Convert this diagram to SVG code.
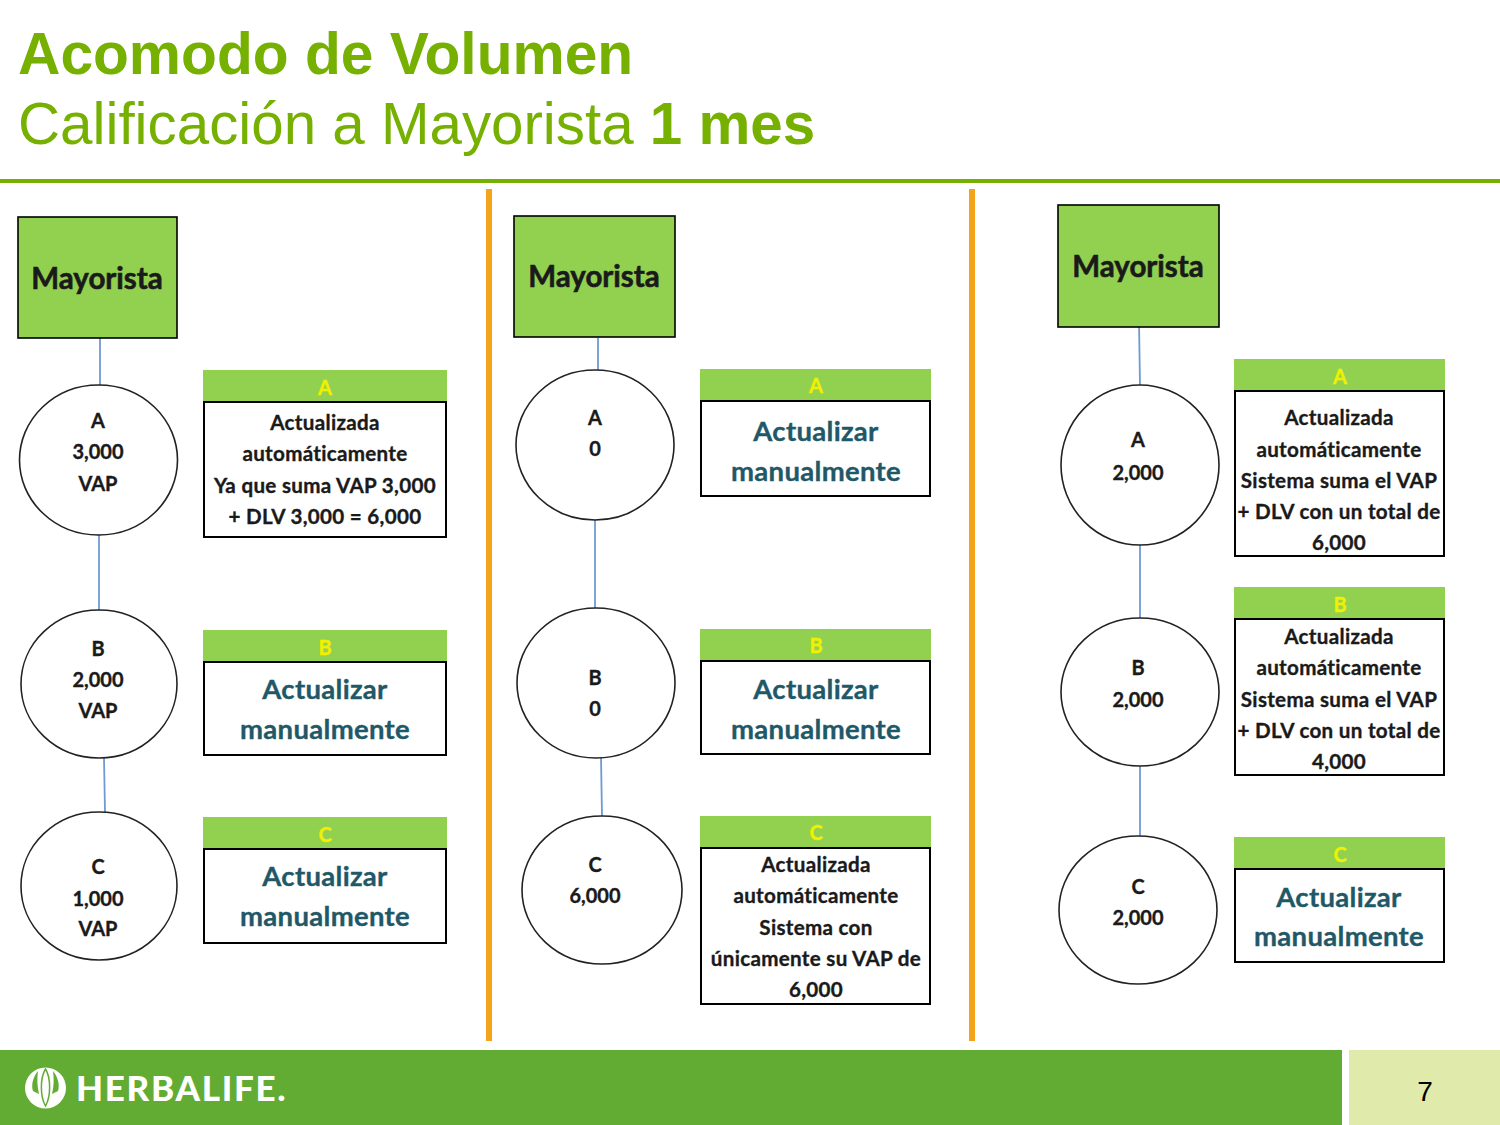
<svg xmlns="http://www.w3.org/2000/svg" width="1500" height="1125" viewBox="0 0 1500 1125">
<style>
.t{font-family:"Liberation Sans",Arial,sans-serif;fill:#76b000;font-size:58.300px}
.b{font-weight:700}
.n{fill:#92d050;stroke:#000;stroke-width:1.6}
.c{fill:#fff;stroke:#222;stroke-width:1.6}
.h{fill:#92d050}
.w{fill:#fff;stroke:#000;stroke-width:2}
.l{font-family:Lato,"Noto Sans",sans-serif;font-weight:700;text-anchor:middle;fill:#1a1a1a;stroke:#1a1a1a;stroke-width:.35}
.m{font-size:29.500px;stroke-width:.6}
.s{font-size:20px;transform:translateY(.7px)}
.x{font-size:20.600px;letter-spacing:.3px;transform:translateY(.7px)}
.y{font-size:20px;fill:#f0f000;stroke:#f0f000}
.a{font-size:27.500px;letter-spacing:.3px;fill:#215868;stroke:#215868;transform:translateY(.7px)}
.k{stroke:#6f9bd1;stroke-width:1.800;fill:none}
.o{stroke:#f5a31a;stroke-width:6;fill:none}
</style>
<rect width="1500" height="1125" fill="#fff"/>
<g id="title">
<text class="t b" x="18" y="74" style="font-size:58.700px">Acomodo de Volumen</text>
<text class="t" x="18" y="144">Calificación a Mayorista <tspan class="b">1 mes</tspan></text>
<rect x="0" y="179" width="1500" height="4" fill="#76b000"/>
</g>
<g id="dividers">
<path class="o" d="M489 189V1041"/>
<path class="o" d="M972 189V1041"/>
</g>
<g id="connectors">
<path class="k" d="M100 338V386M99 535V611M104 758L105 812"/>
<path class="k" d="M598 338V370M595 520V609M601 757L602 816"/>
<path class="k" d="M1139 322L1140 386M1140 545V618M1140 766V837"/>
</g>
<g id="p1-root"><rect class="n" x="18" y="217" width="159" height="121"/><text class="l m" x="97" y="289">Mayorista</text></g>
<g id="p1-a"><ellipse class="c" cx="98.500" cy="460" rx="79" ry="75"/><text class="l s" x="98" y="427">A</text><text class="l s" x="98" y="458">3,000</text><text class="l s" x="98" y="490">VAP</text></g>
<g id="p1-b"><ellipse class="c" cx="99" cy="684" rx="78" ry="74"/><text class="l s" x="98" y="655">B</text><text class="l s" x="98" y="686">2,000</text><text class="l s" x="98" y="717">VAP</text></g>
<g id="p1-c"><ellipse class="c" cx="99" cy="886" rx="78" ry="74"/><text class="l s" x="98" y="873">C</text><text class="l s" x="98" y="905">1,000</text><text class="l s" x="98" y="935">VAP</text></g>
<g id="p1-box-a"><rect class="h" x="203" y="370" width="244" height="32"/><text class="l y" x="325" y="395">A</text><rect class="w" x="204" y="402" width="242" height="135"/>
<text class="l x" x="325" y="429">Actualizada</text><text class="l x" x="325" y="460">automáticamente</text><text class="l x" x="325" y="492">Ya que suma VAP 3,000</text><text class="l x" x="325" y="523">+ DLV 3,000 =  6,000</text></g>
<g id="p1-box-b"><rect class="h" x="203" y="630" width="244" height="32"/><text class="l y" x="325" y="655">B</text><rect class="w" x="204" y="662" width="242" height="93"/>
<text class="l a" x="325" y="698">Actualizar</text><text class="l a" x="325" y="738">manualmente</text></g>
<g id="p1-box-c"><rect class="h" x="203" y="817" width="244" height="32"/><text class="l y" x="325" y="842">C</text><rect class="w" x="204" y="849" width="242" height="94"/>
<text class="l a" x="325" y="885">Actualizar</text><text class="l a" x="325" y="925">manualmente</text></g>

<g id="p2-root"><rect class="n" x="514" y="216" width="161" height="121"/><text class="l m" x="594" y="287">Mayorista</text></g>
<g id="p2-a"><ellipse class="c" cx="595" cy="445" rx="79" ry="75"/><text class="l s" x="595" y="424">A</text><text class="l s" x="595" y="455">0</text></g>
<g id="p2-b"><ellipse class="c" cx="596" cy="683" rx="79" ry="75"/><text class="l s" x="595" y="684">B</text><text class="l s" x="595" y="715">0</text></g>
<g id="p2-c"><ellipse class="c" cx="602" cy="890" rx="80" ry="74"/><text class="l s" x="595" y="871">C</text><text class="l s" x="595" y="902">6,000</text></g>
<g id="p2-box-a"><rect class="h" x="700" y="369" width="231" height="32"/><text class="l y" x="816" y="393">A</text><rect class="w" x="701" y="401" width="229" height="95"/>
<text class="l a" x="816" y="440">Actualizar</text><text class="l a" x="816" y="480">manualmente</text></g>
<g id="p2-box-b"><rect class="h" x="700" y="629" width="231" height="32"/><text class="l y" x="816" y="653">B</text><rect class="w" x="701" y="661" width="229" height="93"/>
<text class="l a" x="816" y="698">Actualizar</text><text class="l a" x="816" y="738">manualmente</text></g>
<g id="p2-box-c"><rect class="h" x="700" y="816" width="231" height="32"/><text class="l y" x="816" y="840">C</text><rect class="w" x="701" y="848" width="229" height="156"/>
<text class="l x" x="816" y="871">Actualizada</text><text class="l x" x="816" y="902">automáticamente</text><text class="l x" x="816" y="934">Sistema con</text><text class="l x" x="816" y="965">únicamente su VAP de</text><text class="l x" x="816" y="996">6,000</text></g>

<g id="p3-root"><rect class="n" x="1058" y="205" width="161" height="122"/><text class="l m" x="1138" y="277">Mayorista</text></g>
<g id="p3-a"><ellipse class="c" cx="1140" cy="465" rx="79" ry="80"/><text class="l s" x="1138" y="446">A</text><text class="l s" x="1138" y="479">2,000</text></g>
<g id="p3-b"><ellipse class="c" cx="1140" cy="692" rx="79" ry="74"/><text class="l s" x="1138" y="674">B</text><text class="l s" x="1138" y="706">2,000</text></g>
<g id="p3-c"><ellipse class="c" cx="1138" cy="910" rx="79" ry="74"/><text class="l s" x="1138" y="893">C</text><text class="l s" x="1138" y="924">2,000</text></g>
<g id="p3-box-a"><rect class="h" x="1234" y="359" width="211" height="32"/><text class="l y" x="1340" y="384">A</text><rect class="w" x="1235" y="391" width="209" height="165"/>
<text class="l x" x="1339" y="424">Actualizada</text><text class="l x" x="1339" y="456">automáticamente</text><text class="l x" x="1339" y="487">Sistema suma el VAP</text><text class="l x" x="1339" y="518">+ DLV con un total de</text><text class="l x" x="1339" y="549">6,000</text></g>
<g id="p3-box-b"><rect class="h" x="1234" y="587" width="211" height="32"/><text class="l y" x="1340" y="612">B</text><rect class="w" x="1235" y="619" width="209" height="156"/>
<text class="l x" x="1339" y="643">Actualizada</text><text class="l x" x="1339" y="674">automáticamente</text><text class="l x" x="1339" y="706">Sistema suma el VAP</text><text class="l x" x="1339" y="737">+ DLV con un total de</text><text class="l x" x="1339" y="768">4,000</text></g>
<g id="p3-box-c"><rect class="h" x="1234" y="837" width="211" height="32"/><text class="l y" x="1340" y="862">C</text><rect class="w" x="1235" y="869" width="209" height="93"/>
<text class="l a" x="1339" y="906">Actualizar</text><text class="l a" x="1339" y="945">manualmente</text></g>

<g id="footer">
<rect x="0" y="1050" width="1342" height="75" fill="#62ac33"/>
<rect x="1349" y="1050" width="151" height="75" fill="#e0eaaa"/>
<text x="1425" y="1101" font-family="Liberation Sans,Arial,sans-serif" font-size="28" text-anchor="middle" fill="#000">7</text>
<g id="logo">
<circle cx="45.500" cy="1088" r="20.500" fill="#fff"/>
<path d="M45.500 1069C40 1078 40 1096 45.500 1106C51 1096 51 1078 45.500 1069Z" fill="#fff" stroke="#62ac33" stroke-width="1.500"/>
<path d="M38 1071C33 1077 31 1085 33 1091L39 1094C37 1086 37 1078 38 1071ZM53 1071C58 1077 60 1085 58 1091L52 1094C54 1086 54 1078 53 1071Z" fill="#62ac33"/>
<text x="76" y="1101" font-family="Lato,Liberation Sans,sans-serif" font-weight="900" font-size="35" letter-spacing="1.700" fill="#fff">HERBALIFE.</text>
</g>
</g>
</svg>
